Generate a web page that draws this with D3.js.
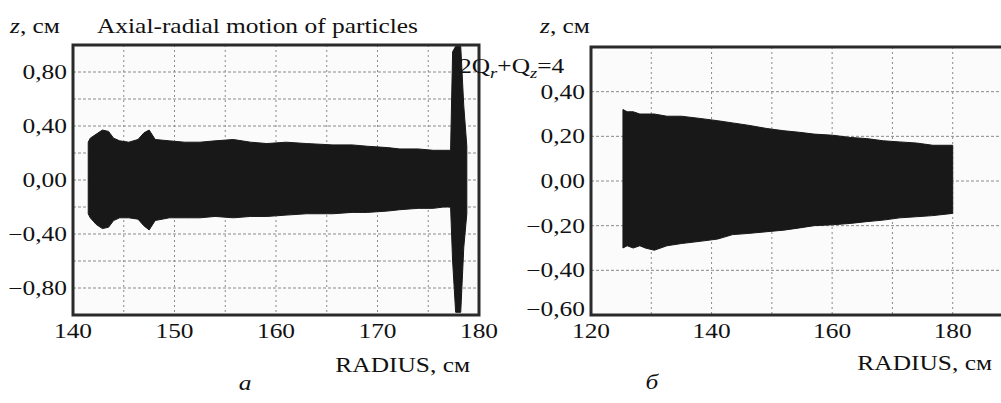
<!DOCTYPE html>
<html>
<head>
<meta charset="utf-8">
<script src="https://cdn.jsdelivr.net/npm/d3@7"></script>
<style>
body { margin: 0; background: #fff; }
text { font-family: "Liberation Serif", "Times New Roman", "DejaVu Serif", serif; fill: #111; }
</style>
</head>
<body>
<svg width="1001" height="403"></svg>
<script>
// panel a : envelope of the particle cloud
const radiusA = [141.5, 141.7, 142.3, 142.9, 143.5, 144.0, 144.6, 145.5, 146.4, 147.0, 147.5, 148.1, 149.5, 151, 152.5, 154, 155.8, 157.5, 159.1, 161, 163, 165.6, 167.5, 169, 171, 172.2, 174, 175.5, 176.5, 177.2, 177.4, 177.7, 178.2, 178.5, 178.8]
const topA = [0.28, 0.31, 0.34, 0.37, 0.36, 0.31, 0.29, 0.28, 0.30, 0.35, 0.37, 0.30, 0.29, 0.28, 0.28, 0.29, 0.30, 0.28, 0.27, 0.28, 0.27, 0.26, 0.26, 0.25, 0.24, 0.23, 0.23, 0.22, 0.22, 0.22, 0.95, 0.99, 0.99, 0.55, 0.25]
const bottomA = [-0.25, -0.28, -0.33, -0.36, -0.35, -0.30, -0.28, -0.28, -0.29, -0.34, -0.37, -0.30, -0.28, -0.28, -0.28, -0.27, -0.28, -0.27, -0.27, -0.26, -0.25, -0.25, -0.24, -0.24, -0.23, -0.22, -0.21, -0.21, -0.20, -0.20, -0.60, -0.98, -0.98, -0.50, -0.25]

// panel б
const radiusB = [125.3, 126, 127, 128.1, 129, 130.5, 132.6, 135, 138.1, 141, 143.5, 146, 149.2, 152, 154.6, 157, 160.1, 163, 165.7, 168.5, 171.2, 174, 176.7, 180]
const topB = [0.32, 0.31, 0.31, 0.30, 0.30, 0.30, 0.29, 0.29, 0.28, 0.27, 0.26, 0.25, 0.235, 0.225, 0.218, 0.21, 0.205, 0.195, 0.19, 0.18, 0.175, 0.17, 0.16, 0.16]
const bottomB = [-0.30, -0.29, -0.30, -0.29, -0.30, -0.31, -0.29, -0.28, -0.27, -0.26, -0.24, -0.235, -0.227, -0.22, -0.21, -0.20, -0.196, -0.19, -0.182, -0.175, -0.165, -0.16, -0.155, -0.145]

const xTicksA = [140, 150, 160, 170, 180]
const xGridA = [145, 150, 155, 160, 165, 170, 175]
const yTicksA = [0.8, 0.4, 0, -0.4, -0.8]
const yGridA = [0.8, 0.6, 0.4, 0.2, 0, -0.2, -0.4, -0.6, -0.8]

const xTicksB = [120, 140, 160, 180]
const xGridB = [130, 140, 150, 160, 170, 180]
const yTicksB = [0.4, 0.2, 0, -0.2, -0.4, -0.6]
const yGridB = [0.4, 0.2, 0, -0.2, -0.4]

const svg = d3.select("svg")
const sx = 1.24   // the source picture is stretched sideways
const fs = 20.5

let fmt = v => d3.format(".2f")(v).replace(".", ",").replace("-", "\u2013")

function label(x, y, str, anchor) {
    return svg.append("text")
        .attr("transform", "translate(" + x + "," + y + ") scale(" + sx + ",1)")
        .attr("text-anchor", anchor || "start")
        .attr("font-size", fs)
        .text(str)
}

function panel(o) {
    let x = d3.scaleLinear().domain(o.xd).range(o.xr)
    let y = d3.scaleLinear().domain(o.yd).range(o.yr)
    let g = svg.append("g")

    g.append("rect")
        .attr("x", o.xr[0]).attr("y", o.yr[1])
        .attr("width", o.xr[1] - o.xr[0]).attr("height", o.yr[0] - o.yr[1])
        .attr("fill", "#fbfbfb")

    g.selectAll(".gx").data(o.xGrid).join("line")
        .attr("x1", d => x(d)).attr("x2", d => x(d))
        .attr("y1", o.yr[1]).attr("y2", o.yr[0])
        .attr("stroke", "#8a8a8a").attr("stroke-width", 1).attr("stroke-dasharray", "2,3")
    g.selectAll(".gy").data(o.yGrid).join("line")
        .attr("y1", d => y(d)).attr("y2", d => y(d))
        .attr("x1", o.xr[0]).attr("x2", o.xr[1])
        .attr("stroke", "#8a8a8a").attr("stroke-width", 1).attr("stroke-dasharray", "3,2")

    let area = d3.area()
        .x(d => x(d[0]))
        .y0(d => y(d[2]))
        .y1(d => y(d[1]))
    let pts = o.r.map((r, i) => [r, o.top[i], o.bot[i]])
    g.append("path").attr("d", area(pts)).attr("fill", "#181818")
        .attr("stroke", "#181818").attr("stroke-width", 1)

    g.append("rect")
        .attr("x", o.xr[0]).attr("y", o.yr[1])
        .attr("width", o.xr[1] - o.xr[0]).attr("height", o.yr[0] - o.yr[1])
        .attr("fill", "none").attr("stroke", "#2a2a2a").attr("stroke-width", 3)

    // the lowest label sits a little above the frame corner in the source
    o.yTicks.forEach(v => label(o.xr[0] - 6, y(v) + (v == o.yd[0] ? 1 : 7), fmt(v), "end"))
    o.xTicks.forEach(v => label(x(v), o.yr[0] + 23, v, "middle"))
    return {x, y}
}

panel({xd: [140, 180], xr: [73, 479], yd: [-1, 1], yr: [315, 45],
    xGrid: xGridA, yGrid: yGridA, xTicks: xTicksA, yTicks: yTicksA,
    r: radiusA, top: topA, bot: bottomA})

panel({xd: [120, 190], xr: [591, 1013], yd: [-0.6, 0.6], yr: [315, 47],
    xGrid: xGridB, yGrid: yGridB, xTicks: xTicksB, yTicks: yTicksB,
    r: radiusB, top: topB, bot: bottomB})

// titles and axis names
function zLabel(x) {
    let t = label(x, 33, "")
    t.append("tspan").attr("font-style", "italic").text("z")
    t.append("tspan").text(", см")
}
zLabel(10)
zLabel(540)
label(97, 33, "Axial-radial motion of particles")

label(470, 372, "RADIUS, см", "end")
label(992, 370, "RADIUS, см", "end")
label(245, 390, "а", "middle").attr("font-style", "italic")
label(652, 389, "б", "middle").attr("font-style", "italic")

let q = label(459, 73, "")
q.append("tspan").text("2Q")
q.append("tspan").attr("font-style", "italic").attr("font-size", 15).attr("dy", 5).text("r")
q.append("tspan").attr("dy", -5).text("+Q")
q.append("tspan").attr("font-style", "italic").attr("font-size", 15).attr("dy", 5).text("z")
q.append("tspan").attr("dy", -5).text("=4")
</script>
</body>
</html>
